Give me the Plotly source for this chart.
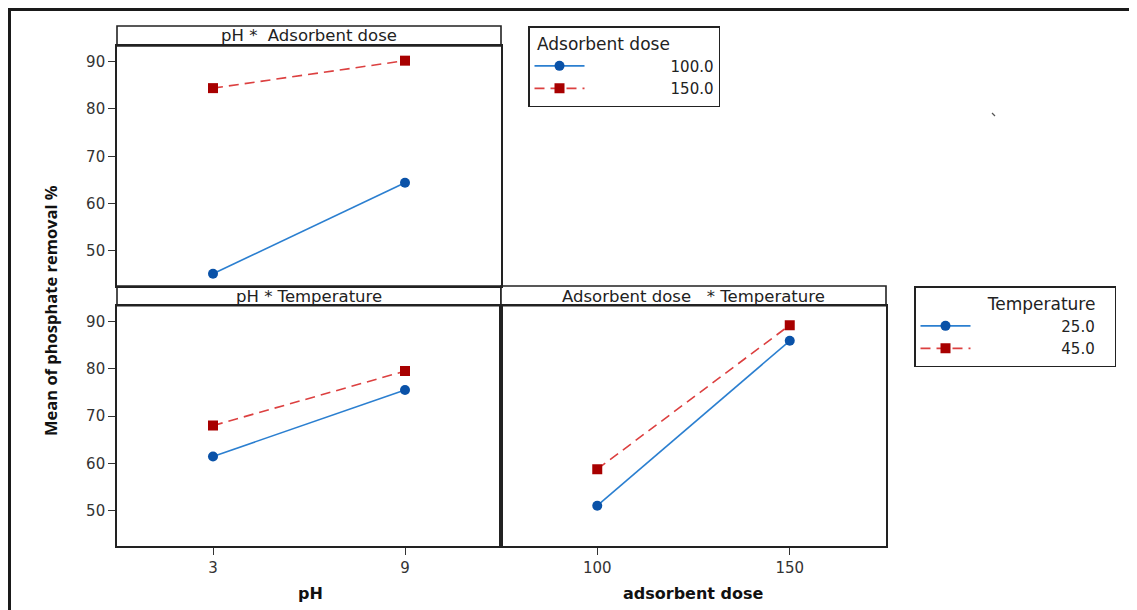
import plotly.graph_objects as go

# ---- data ----
ph_levels = [3, 9]
dose_levels = [100, 150]
ph_dose_100 = [45.2, 64.4]
ph_dose_150 = [84.4, 90.2]
ph_temp_25 = [61.5, 75.5]
ph_temp_45 = [68.0, 79.5]
dose_temp_25 = [51.1, 85.9]
dose_temp_45 = [58.8, 89.2]
y_ticks = [50, 60, 70, 80, 90]
panel_titles = ["pH *  Adsorbent dose", "pH * Temperature", "Adsorbent dose   * Temperature"]

# page body has an 8px margin; map reference pixel positions accordingly
OFF = 8
W, H = 1137 - OFF, 610 - OFF
def px(x):
    return (x - OFF) / W
def py(y):
    return 1 - (y - OFF) / H

BLUE_L, BLUE_M = "#2b7fd0", "#0a52a8"
RED_L, RED_M = "#dc4040", "#a80000"
NB = "\u00a0"

fig = go.Figure()

def add_pair(xv, a, b, xa, ya, names, legend, show):
    fig.add_trace(go.Scatter(x=xv, y=a, mode="lines+markers", name=names[0],
                             line=dict(color=BLUE_L, width=1.6),
                             marker=dict(color=BLUE_M, size=10, symbol="circle"),
                             xaxis=xa, yaxis=ya, legend=legend, showlegend=show))
    fig.add_trace(go.Scatter(x=xv, y=b, mode="lines+markers", name=names[1],
                             line=dict(color=RED_L, width=1.6, dash="10px,6px"),
                             marker=dict(color=RED_M, size=10, symbol="square"),
                             xaxis=xa, yaxis=ya, legend=legend, showlegend=show))

pad = NB * 17
add_pair(ph_levels, ph_dose_100, ph_dose_150, "x", "y",
         [pad + "100.0", pad + "150.0"], "legend", True)
pad2 = NB * 18
add_pair(ph_levels, ph_temp_25, ph_temp_45, "x2", "y2",
         [pad2 + "25.0", pad2 + "45.0"], "legend2", True)
add_pair(dose_levels, dose_temp_25, dose_temp_45, "x3", "y3",
         ["25.0", "45.0"], "legend2", False)

xL = [px(117), px(501)]
xR = [px(501), px(886)]
yT = [py(286), py(46)]
yB = [py(546), py(305.7)]
yrange = [42.6, 93.3]

tickfont = dict(family="DejaVu Sans", size=15, color="#333")
base = dict(showline=True, linecolor="#222", linewidth=1.6, mirror=True,
            showgrid=False, zeroline=False, tickfont=tickfont,
            ticklen=7, tickwidth=1.4, tickcolor="#333")

fig.update_layout(
    xaxis=dict(domain=xL, anchor="y", range=[0, 12], showticklabels=False, ticks="", **base),
    yaxis=dict(domain=yT, anchor="x", range=yrange, tickvals=y_ticks, ticks="outside", **base),
    xaxis2=dict(domain=xL, anchor="y2", range=[0, 12], tickvals=ph_levels, ticks="outside", **base),
    yaxis2=dict(domain=yB, anchor="x2", range=yrange, tickvals=y_ticks, ticks="outside", **base),
    xaxis3=dict(domain=xR, anchor="y3", range=[75, 175], tickvals=dose_levels, ticks="outside", **base),
    yaxis3=dict(domain=yB, anchor="x3", range=yrange, showticklabels=False, ticks="", **base),
)

# strips
shapes = []
for (x0, x1), (y0, y1) in [((117, 501), (26, 46)), ((117, 501), (286, 305.7)), ((501, 886), (286, 305.7))]:
    shapes.append(dict(type="rect", xref="paper", yref="paper",
                       x0=px(x0), x1=px(x1), y0=py(y1), y1=py(y0),
                       line=dict(color="#222", width=1.6), fillcolor="white", layer="below"))
# outer frame
shapes.append(dict(type="rect", xref="paper", yref="paper",
                   x0=px(9.5), x1=1.05, y0=-0.05, y1=py(9.5),
                   line=dict(color="#1a1a1a", width=3)))
# small stray mark
shapes.append(dict(type="line", xref="paper", yref="paper",
                   x0=px(992), x1=px(995), y0=py(113), y1=py(116),
                   line=dict(color="#555", width=1.2)))

annotations = []
strip_font = dict(family="DejaVu Sans", size=16.5, color="#222")
for t, (x0, x1), yc in [(panel_titles[0], (117, 501), 36),
                        (panel_titles[1], (117, 501), 296),
                        (panel_titles[2], (501, 886), 296)]:
    annotations.append(dict(text=t, xref="paper", yref="paper", x=px((x0 + x1) / 2), y=py(yc),
                            xanchor="center", yanchor="middle", showarrow=False, font=strip_font))

title_font = dict(family="DejaVu Sans", size=16, color="#111", weight="bold")
annotations.append(dict(text="pH", xref="paper", yref="paper", x=px(310), y=py(593),
                        xanchor="center", yanchor="middle", showarrow=False, font=title_font))
annotations.append(dict(text="adsorbent dose", xref="paper", yref="paper", x=px(693), y=py(593),
                        xanchor="center", yanchor="middle", showarrow=False, font=title_font))
annotations.append(dict(text="Mean of phosphate removal %", xref="paper", yref="paper",
                        x=px(50), y=py(311), textangle=-90,
                        xanchor="center", yanchor="middle", showarrow=False,
                        font=dict(family="Open Sans", size=16.5, color="#111", weight="bold")))

legfont = dict(family="DejaVu Sans", size=15, color="#222")
legtitlefont = dict(family="DejaVu Sans", size=17, color="#222")
fig.update_layout(
    width=W, height=H, autosize=False,
    margin=dict(l=0, r=0, t=0, b=0, pad=0),
    paper_bgcolor="white", plot_bgcolor="white",
    shapes=shapes, annotations=annotations,
    legend=dict(x=px(528), y=py(26), xanchor="left", yanchor="top",
                bgcolor="white", bordercolor="#222", borderwidth=1.5,
                font=legfont, title=dict(text=NB + "Adsorbent dose" + NB * 4, font=legtitlefont),
                itemwidth=50, tracegroupgap=0),
    legend2=dict(x=px(914), y=py(286), xanchor="left", yanchor="top",
                 bgcolor="white", bordercolor="#222", borderwidth=1.5,
                 font=legfont, title=dict(text=NB * 13 + "Temperature" + NB * 3, font=legtitlefont),
                 itemwidth=50, tracegroupgap=0),
)

fig.write_html("out.html")
